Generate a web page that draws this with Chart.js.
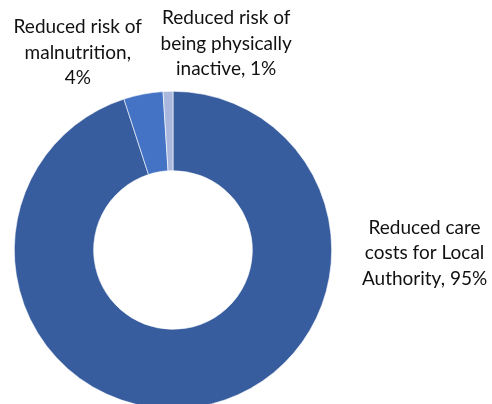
<!DOCTYPE html>
<html>
<head>
<meta charset="utf-8">
<script src="https://cdn.jsdelivr.net/npm/chart.js@4.4.1/dist/chart.umd.min.js"></script>
<style>
  html, body { margin: 0; padding: 0; background: #fff; overflow: hidden; }
  #wrap { width: 492px; height: 420px; }
</style>
</head>
<body>
<div id="wrap"><canvas id="myChart" width="492" height="420"></canvas></div>
<script>
const categories = [
    ['Reduced care', 'costs for Local', 'Authority, 95%'],
    ['Reduced risk of', 'malnutrition,', '4%'],
    ['Reduced risk of', 'being physically', 'inactive, 1%']
];
const shares = [95, 4, 1];
const sliceColors = ['#385d9f', '#4472c4', '#a9b8dc'];

// label block centre, as offsets from the doughnut centre (in outer radii)
const labelOffsets = [[1.585, 0.02], [-0.60, -1.245], [0.335, -1.30]];

const outsideLabels = {
    id: 'outsideLabels',
    afterDatasetsDraw(chart) {
        const ctx = chart.ctx;
        const arcs = chart.getDatasetMeta(0).data;
        ctx.save();
        ctx.font = '19px Lato';
        ctx.fillStyle = '#111111';
        ctx.textAlign = 'center';
        ctx.textBaseline = 'middle';
        const lh = 25.5;
        arcs.forEach(function (arc, i) {
            const cx = arc.x + labelOffsets[i][0] * arc.outerRadius;
            const cy = arc.y + labelOffsets[i][1] * arc.outerRadius;
            const lines = categories[i];
            lines.forEach(function (t, j) {
                ctx.fillText(t, cx, cy + (j - (lines.length - 1) / 2) * lh);
            });
        });
        ctx.restore();
    }
};

const ctx = document.getElementById('myChart').getContext('2d');
new Chart(ctx, {
    type: 'doughnut',
    data: {
        labels: categories.map(l => l.join(' ')),
        datasets: [{
            data: shares,
            backgroundColor: sliceColors,
            borderColor: '#ffffff',
            borderWidth: 0.6
        }]
    },
    options: {
        responsive: false,
        animation: false,
        cutout: '50%',
        layout: { padding: { left: 14, right: 160, top: 91, bottom: 11 } },
        plugins: {
            legend: { display: false },
            tooltip: { enabled: false }
        }
    },
    plugins: [outsideLabels]
});
</script>
</body>
</html>
